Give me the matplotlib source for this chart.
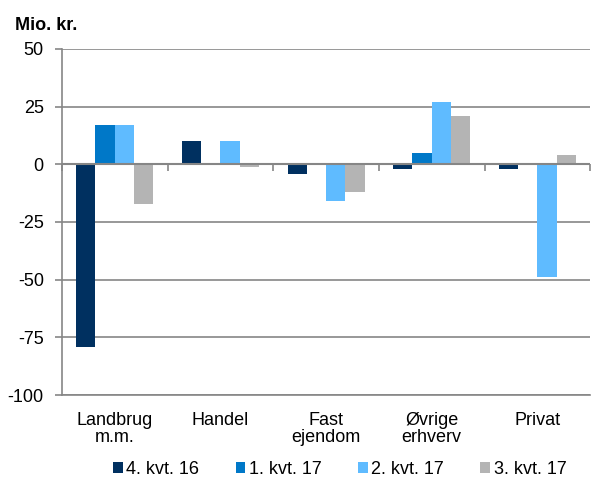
import matplotlib.pyplot as plt
import numpy as np

plt.rcParams['font.family'] = ['Liberation Sans', 'DejaVu Sans']
plt.rcParams['axes.unicode_minus'] = False

categories = ["Landbrug\nm.m.", "Handel", "Fast\nejendom", "Øvrige\nerhverv", "Privat"]
series = ["4. kvt. 16", "1. kvt. 17", "2. kvt. 17", "3. kvt. 17"]
q4_16 = [-79, 10, -4, -2, -2]
q1_17 = [17, 0.5, 0, 5, 0]
q2_17 = [17, 10, -16, 27, -49]
q3_17 = [-17, -1, -12, 21, 4]
colors = ["#003060", "#0078C8", "#5FBBFF", "#B4B4B4"]

grid_col = "#868686"
fs = 13

fig = plt.figure(figsize=(5.95, 4.8), dpi=100)
ax = fig.add_axes([0.104, 0.177, 0.888, 0.721])

x = np.arange(len(categories))
w = 0.182
values = [q4_16, q1_17, q2_17, q3_17]
for i, (vals, c, lab) in enumerate(zip(values, colors, series)):
    ax.bar(x + (i - 1.5) * w, vals, w, color=c, label=lab, zorder=3)

ax.set_xlim(-0.5, len(categories) - 0.5)
ax.set_ylim(-100, 50)
ax.set_yticks(np.arange(-100, 51, 25))
ax.yaxis.grid(True, color=grid_col, linewidth=1.2, zorder=0)
ax.tick_params(axis='y', length=5, width=1.2, color=grid_col, labelsize=fs, pad=8)

ax.set_xticks(x)
ax.set_xticklabels(categories, fontsize=fs, linespacing=1.0)
ax.tick_params(axis='x', length=0, pad=12)

for s in ['top', 'right']:
    ax.spines[s].set_visible(False)
for s in ['left', 'bottom']:
    ax.spines[s].set_color(grid_col)
    ax.spines[s].set_linewidth(1.2)

# zero line with category separators
ax.axhline(0, color=grid_col, linewidth=1.5, zorder=4)
sec = ax.secondary_xaxis(100 / 150)
sec.set_xticks(np.arange(-0.5, len(categories), 1.0))
sec.set_xticklabels([])
sec.tick_params(axis='x', direction='out', length=5, width=1.2, color=grid_col)
sec.spines['bottom'].set_visible(False)
sec.spines['top'].set_visible(False)
sec.xaxis.set_ticks_position('bottom')

fig.text(0.025, 0.9375, "Mio. kr.", fontsize=fs, fontweight='bold', va='baseline')

fig.legend(loc='lower center', bbox_to_anchor=(0.571, -0.03), ncol=4, frameon=False,
           fontsize=fs, handlelength=0.55, handleheight=0.55, handletextpad=0.2,
           columnspacing=2.0)

fig.savefig("out.png", dpi=100)
